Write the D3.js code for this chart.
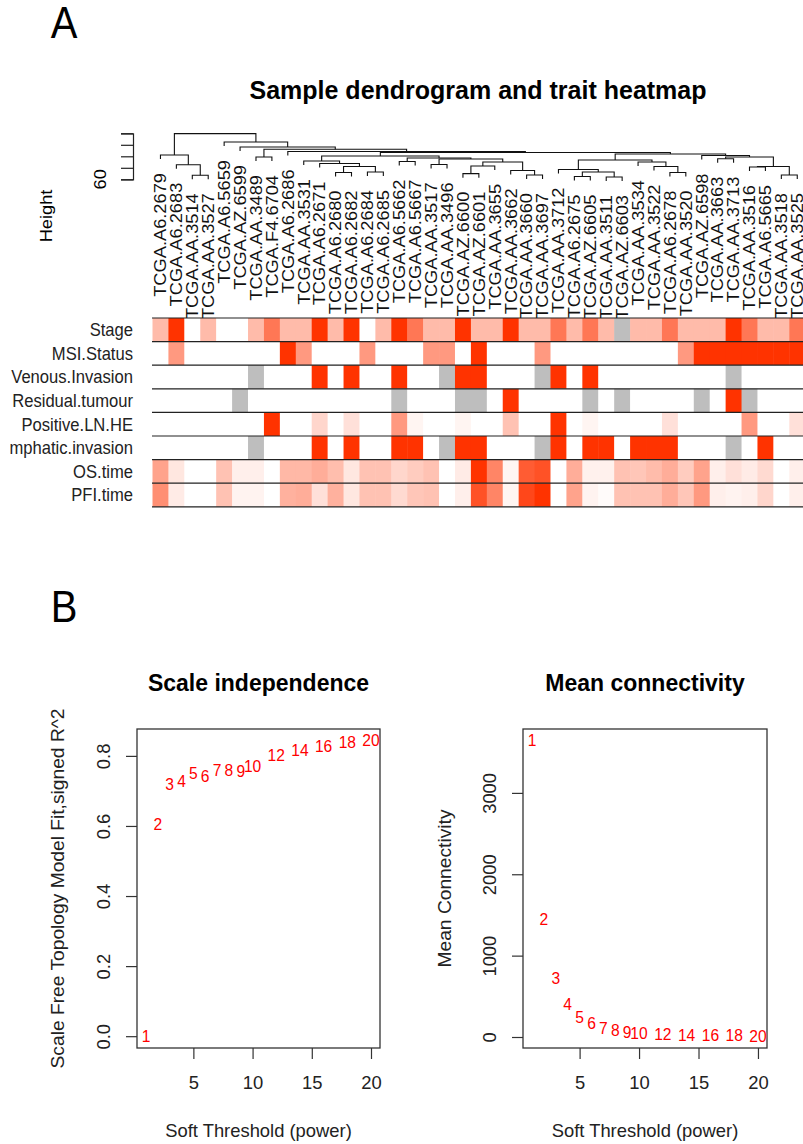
<!DOCTYPE html>
<html>
<head>
<meta charset="utf-8">
<script src="https://cdn.jsdelivr.net/npm/d3@7"></script>
<style>
  body { margin: 0; background: #fff; }
  svg { display: block; }
</style>
</head>
<body>
<svg id="fig" width="803" height="1144"></svg>
<script>
// ---- data ----
const sampleIds = [
  "TCGA.A6.2679", "TCGA.A6.2683", "TCGA.AA.3514", "TCGA.AA.3527", "TCGA.A6.5659",
  "TCGA.AZ.6599", "TCGA.AA.3489", "TCGA.F4.6704", "TCGA.A6.2686", "TCGA.AA.3531",
  "TCGA.A6.2671", "TCGA.A6.2680", "TCGA.A6.2682", "TCGA.A6.2684", "TCGA.A6.2685",
  "TCGA.A6.5662", "TCGA.A6.5667", "TCGA.AA.3517", "TCGA.AA.3496", "TCGA.AZ.6600",
  "TCGA.AZ.6601", "TCGA.AA.3655", "TCGA.AA.3662", "TCGA.AA.3660", "TCGA.AA.3697",
  "TCGA.AA.3712", "TCGA.A6.2675", "TCGA.AZ.6605", "TCGA.AA.3511", "TCGA.AZ.6603",
  "TCGA.AA.3534", "TCGA.AA.3522", "TCGA.A6.2678", "TCGA.AA.3520", "TCGA.AZ.6598",
  "TCGA.AA.3663", "TCGA.AA.3713", "TCGA.AA.3516", "TCGA.A6.5665", "TCGA.AA.3518",
  "TCGA.AA.3525"
];

// hclust-style merges: negative = leaf (plot order, 1-based), positive = earlier merge; third = height
const merges = [
  [-3, -4, 63.5], [-2, 1, 72.7], [-1, 2, 81.1], [-7, -8, 79.4],
  [-12, -13, 65.9], [-14, -15, 66.3], [5, 6, 71.1], [-11, 7, 73.7], [-10, 8, 75.9],
  [-16, -17, 75.5], [-18, -19, 72.9], [-20, -21, 64.9], [12, -22, 71.6],
  [-24, -25, 63.7], [-23, 14, 67.7], [13, 15, 75.0], [11, 16, 77.7], [10, 17, 78.5],
  [9, 18, 80.3], [-27, -28, 62.4], [-29, -30, 62.0], [20, 21, 66.3], [-26, 22, 68.5],
  [-33, -34, 65.9], [-32, 24, 71.1], [-31, 25, 75.0], [23, 26, 76.8],
  [-36, -37, 77.9], [-38, -39, 70.7], [-40, -41, 63.7], [29, 30, 71.1], [28, 31, 79.4],
  [-35, 32, 80.7], [27, 33, 82.0], [19, 34, 83.3], [-9, 35, 84.2], [4, 36, 86.1],
  [-6, 37, 88.1], [-5, 38, 92.4], [3, 39, 99.7]
];
const heightTicks = [60, 70, 80, 90, 100];

const traitNames = ["Stage", "MSI.Status", "Venous.Invasion", "Residual.tumour",
  "Positive.LN.HE", "Lymphatic.invasion", "OS.time", "PFI.time"];
const stage = [2,4,1,2,1,1,2,3,2,2, 4,2,4,1,2,4,3,2,2,4, 2,2,4,2,2,3,2,3,2,null, 2,2,3,2,2,2,4,3,2,2, 3];
const msiStatus = [0,1,0,0,0,0,0,0,2,1, 0,0,0,1,0,0,0,1,1,0, 2,0,0,0,1,0,0,0,0,0, 0,0,0,1,2,2,2,2,2,2, 2];
const venousInvasion = [0,0,0,0,0,0,null,0,0,0, 1,0,1,0,0,1,0,0,null,1, 1,0,0,0,null,1,0,1,0,0, 0,0,0,0,0,0,null,0,0,0, 0];
const residualTumour = [0,0,0,0,0,null,0,0,0,0, 0,0,0,0,0,null,0,0,0,null, null,0,1,0,0,0,0,null,0,null, 0,0,0,0,null,0,1,null,0,0, 0];
const positiveLN = [0,0,0,0,0,0,0,20,0,0, 4,0,3,0,0,10,1,0,0,1, 0,0,6,0,0,20,0,1,0,0, 0,0,3,0,0,0,0,10,0,0, 3];
const lymphaticInvasion = [0,0,0,0,0,0,null,0,0,0, 1,0,1,0,0,1,1,0,null,1, 1,0,0,0,null,1,0,1,1,0, 1,1,1,0,0,0,null,0,1,0, 0];
const osTime = [45,12,0,0,30,8,8,0,35,35, 40,32,12,30,30,20,25,30,0,10, 100,60,5,80,85,0,40,7,7,30, 28,33,40,25,45,8,15,10,18,0, 8];
const pfiTime = [55,10,0,0,30,6,6,0,38,40, 15,38,12,30,30,18,28,30,0,8, 85,60,5,90,100,0,45,6,2,30, 30,30,40,28,50,8,6,8,20,0, 8];

const powers = [1,2,3,4,5,6,7,8,9,10,12,14,16,18,20];
const sftFit = [0.00, 0.605, 0.717, 0.728, 0.75, 0.741, 0.759, 0.757, 0.754, 0.771, 0.802, 0.814, 0.828, 0.837, 0.843];
const meanK = [3640, 1440, 715, 395, 245, 160, 108, 75, 54, 40, 26, 19, 15, 12, 10];

// ---- helpers ----
const FONT = "'Liberation Sans', Arial, Helvetica, sans-serif";
const svg = d3.select("#fig");
svg.append("rect").attr("width", 803).attr("height", 1144).attr("fill", "#fff");

//Text with a slight vertical stretch (the figure was resized non-uniformly)
function label(g, x, y, s, o = {}) {
  const k = o.k || 1;
  const rot = o.rot || 0;
  const sc = rot ? `scale(${k},1)` : `scale(1,${k})`;
  return g.append("text")
    .attr("transform", `translate(${x},${y}) rotate(${rot}) ${sc}`)
    .attr("text-anchor", o.anchor || "middle")
    .attr("dy", o.dy ?? "0.35em")
    .attr("font-family", FONT)
    .attr("font-size", o.size || 16)
    .attr("font-weight", o.bold ? "bold" : null)
    .attr("fill", o.fill || "#000")
    .text(s);
}

// ==== Panel A ====
const gA = svg.append("g");
label(gA, 64, 23, "A", { size: 40, k: 1.1 });
label(gA, 478, 90, "Sample dendrogram and trait heatmap", { size: 25, bold: true, k: 1.0 });

const xLeaf = d3.scaleBand().domain(d3.range(sampleIds.length)).range([152.5, 152.5 + 41 * 15.92]);
const bw = xLeaf.bandwidth();
const hY = d3.scaleLinear().domain([60, 100]).range([179.3, 133.3]);

//Height axis
const axH = gA.append("g").attr("transform", "translate(133,0)")
  .call(d3.axisLeft(hY).tickValues(heightTicks).tickSize(12).tickFormat(""));
axH.selectAll("path, line").attr("stroke", "#222").attr("stroke-width", 1.2);
label(gA, 100, hY(60), "60", { rot: -90, size: 16.6, k: 1.1 });
label(gA, 46, 216, "Height", { rot: -90, size: 16.6, k: 1.1 });

//Dendrogram from the merge table
const nodes = merges.map(() => null);
const dendro = gA.append("g").attr("fill", "none").attr("stroke", "#111").attr("stroke-width", 1.1);
const leafTop = [];
function childPos(c, parentY) {
  if (c < 0) {
    const i = -c - 1;
    leafTop[i] = parentY;
    return { x: xLeaf(i) + bw / 2, y: parentY + 4 };
  }
  return nodes[c - 1];
}
merges.forEach((m, k) => {
  const y = hY(m[2]);
  const a = childPos(m[0], y), b = childPos(m[1], y);
  nodes[k] = { x: (a.x + b.x) / 2, y: y };
  dendro.append("path").attr("d", `M${a.x},${a.y}V${y}H${b.x}V${b.y}`);
});

//Leaf labels
sampleIds.forEach((s, i) => {
  label(gA, xLeaf(i) + bw / 2, leafTop[i] + 18, s, { rot: -90, anchor: "end", size: 16.6, k: 1.1, fill: "#111" });
});

//Trait heatmap
const traits = [stage, msiStatus, venousInvasion, residualTumour, positiveLN, lymphaticInvasion, osTime, pfiTime];
const rowTop = 318, rowH = 23.6;
const rowY = d3.scaleBand().domain(d3.range(traits.length)).range([rowTop, rowTop + traits.length * rowH]);
const toRed = d3.interpolateRgb("#ffffff", "#ff3300");
const heat = gA.append("g");
traits.forEach((vals, r) => {
  const t = d3.scaleLinear().domain(d3.extent(vals.filter(v => v !== null))).range([0, 1]);
  heat.selectAll(null).data(vals).enter().append("rect")
    .attr("x", (d, i) => xLeaf(i))
    .attr("y", rowY(r))
    .attr("width", bw + 0.5)
    .attr("height", rowY.bandwidth())
    .attr("fill", d => d === null ? "#bebebe" : toRed(t(d)));
});
heat.selectAll("line").data(d3.range(traits.length + 1)).enter().append("line")
  .attr("x1", 152).attr("x2", 803)
  .attr("y1", d => rowTop + d * rowH).attr("y2", d => rowTop + d * rowH)
  .attr("stroke", "#222").attr("stroke-width", 1.2);

//The long trait name is cut at the figure's left edge, as in the original
const clipId = "rowLabClip";
gA.append("clipPath").attr("id", clipId).append("rect").attr("x", 10).attr("y", 300).attr("width", 140).attr("height", 220);
const rowLab = gA.append("g").attr("clip-path", `url(#${clipId})`);
traitNames.forEach((n, r) => {
  label(rowLab, 133, rowY(r) + rowH / 2, n, { anchor: "end", size: 16.6, k: 1.1, fill: "#222" });
});

// ==== Panel B ====
const gB = svg.append("g");
label(gB, 64, 607, "B", { size: 40, k: 1.1 });

function scatter(opt) {
  const g = gB.append("g");
  const [x0, x1, y0, y1] = opt.box;
  const ext = (a) => { const [lo, hi] = d3.extent(a); const p = 0.04 * (hi - lo); return [lo - p, hi + p]; };
  const x = d3.scaleLinear().domain(ext(powers)).range([x0, x1]);
  const y = d3.scaleLinear().domain(ext(opt.values)).range([y1, y0]);

  const ax = g.append("g").attr("transform", `translate(0,${y1})`)
    .call(d3.axisBottom(x).tickValues([5, 10, 15, 20]).tickSize(11).tickPadding(6));
  ax.select(".domain").remove();
  ax.selectAll("line").attr("stroke", "#333").attr("stroke-width", 1.2);
  ax.selectAll("text").attr("y", 35).attr("dy", "0.35em")
    .attr("font-family", FONT).attr("font-size", 18.4).attr("fill", "#222");

  const ay = g.append("g").attr("transform", `translate(${x0},0)`)
    .call(d3.axisLeft(y).tickValues(opt.ticks).tickSize(11).tickFormat(opt.fmt));
  ay.select(".domain").remove();
  ay.selectAll("line").attr("stroke", "#333").attr("stroke-width", 1.2);
  ay.selectAll("text").attr("transform", "rotate(-90)")
    .attr("x", 0).attr("y", -27).attr("dy", 0).attr("text-anchor", "middle")
    .attr("font-family", FONT).attr("font-size", 18.4).attr("fill", "#222");

  g.append("rect").attr("x", x0).attr("y", y0).attr("width", x1 - x0).attr("height", y1 - y0)
    .attr("fill", "none").attr("stroke", "#333").attr("stroke-width", 1.3);

  g.selectAll("text.pt").data(powers).enter().append("text")
    .attr("class", "pt")
    .attr("x", d => x(d))
    .attr("y", (d, i) => y(opt.values[i]))
    .attr("dy", "0.35em")
    .attr("text-anchor", "middle")
    .attr("font-family", FONT).attr("font-size", 15.6).attr("fill", "#ff0000")
    .text(d => d);

  label(g, (x0 + x1) / 2, 683, opt.title, { size: 23, bold: true, k: 1.05 });
  label(g, (x0 + x1) / 2, 1130, "Soft Threshold (power)", { size: 18.4, k: 1.045, fill: "#222" });
  label(g, opt.ylabX, (y0 + y1) / 2, opt.ylab, { rot: -90, size: 18.4, k: 1.045, fill: "#222" });
}

scatter({
  box: [137, 380, 729, 1048], values: sftFit, ticks: [0, 0.2, 0.4, 0.6, 0.8],
  fmt: d3.format(".1f"), title: "Scale independence",
  ylab: "Scale Free Topology Model Fit,signed R^2", ylabX: 58
});
scatter({
  box: [523, 767, 729, 1048], values: meanK, ticks: [0, 1000, 2000, 3000],
  fmt: d3.format("d"), title: "Mean connectivity",
  ylab: "Mean Connectivity", ylabX: 445
});
</script>
</body>
</html>
